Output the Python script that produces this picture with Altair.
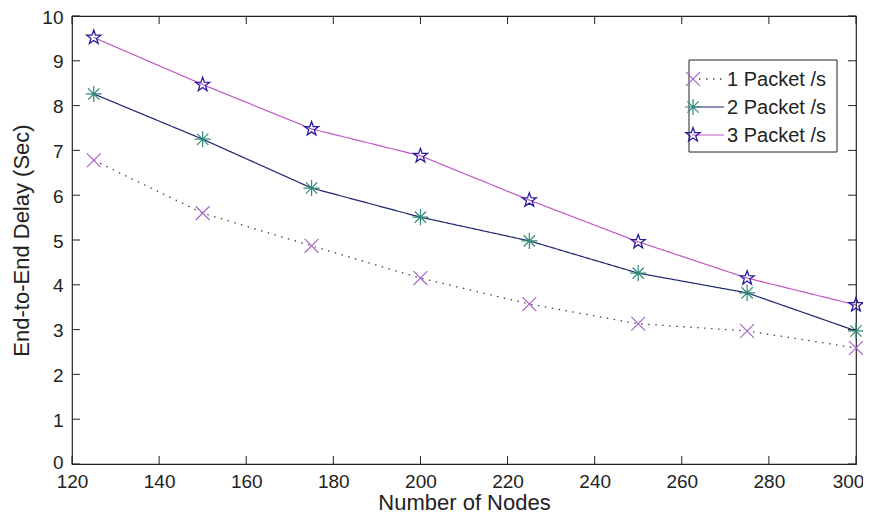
import altair as alt
import pandas as pd

# ---------------- data ----------------
nodes = [125, 150, 175, 200, 225, 250, 275, 300]
pkt1 = [6.78, 5.60, 4.87, 4.15, 3.57, 3.13, 2.97, 2.59]
pkt2 = [8.26, 7.25, 6.16, 5.51, 4.98, 4.26, 3.82, 2.97]
pkt3 = [9.52, 8.47, 7.48, 6.88, 5.89, 4.96, 4.15, 3.55]
series_names = ["1 Packet /s", "2 Packet /s", "3 Packet /s"]
x_ticks = [120, 140, 160, 180, 200, 220, 240, 260, 280, 300]
y_ticks = [0, 1, 2, 3, 4, 5, 6, 7, 8, 9, 10]

W, H = 784, 448
FONT = "Liberation Sans, Arial, Helvetica, sans-serif"

X_SHAPE = "M-1,-1L1,1M-1,1L1,-1"
AST_SHAPE = "M-1,0L1,0M0,-1L0,1M-0.7,-0.7L0.7,0.7M-0.7,0.7L0.7,-0.7"
STAR_SHAPE = ("M0,-1L0.235,-0.324L0.951,-0.309L0.380,0.124L0.588,0.809L0,0.4"
              "L-0.588,0.809L-0.380,0.124L-0.951,-0.309L-0.235,-0.324Z")

styles = [
    dict(line="#3c3c3c", dash=[1.4, 5.6], lw=1.3, mcol="#a865c8", shape=X_SHAPE, size=190, mw=1.2),
    dict(line="#1c2470", dash=[1, 0], lw=1.2, mcol="#2f8a78", shape=AST_SHAPE, size=260, mw=1.2),
    dict(line="#c058c4", dash=[1, 0], lw=1.2, mcol="#2a1c9c", shape=STAR_SHAPE, size=220, mw=1.3),
]

values = [pkt1, pkt2, pkt3]

xs = alt.Scale(domain=[120, 300], nice=False, zero=False)
ys = alt.Scale(domain=[0, 10], nice=False, zero=False)

x_axis = alt.Axis(values=x_ticks, title="Number of Nodes", grid=False, domain=False,
                  ticks=False, labelFont=FONT, labelFontSize=19, labelPadding=8,
                  labelColor="#222", titleFont=FONT, titleFontSize=22,
                  titleFontWeight="normal", titleColor="#222", titlePadding=1,
                  labelFlush=False, labelOverlap=False,
                  labelOffset={"condition": {"test": "datum.value == 300", "value": -8}, "value": 0})
y_axis = alt.Axis(values=y_ticks, title="End-to-End Delay (Sec)", grid=False, domain=False,
                  ticks=False, labelFont=FONT, labelFontSize=19, labelPadding=9,
                  labelColor="#222", titleFont=FONT, titleFontSize=22,
                  labelOffset={"condition": {"test": "datum.value == 0", "value": -2}, "value": 1},
                  titleFontWeight="normal", titleColor="#222", titlePadding=8,
                  labelFlush=False, labelOverlap=False)

layers = []

# series lines
for name, vals, st in zip(series_names, values, styles):
    df = pd.DataFrame({"nodes": nodes, "delay": vals, "series": name})
    layers.append(
        alt.Chart(df).mark_line(color=st["line"], strokeDash=st["dash"], strokeWidth=st["lw"])
        .encode(x=alt.X("nodes:Q", scale=xs, axis=x_axis),
                y=alt.Y("delay:Q", scale=ys, axis=y_axis))
    )

# series markers
for name, vals, st in zip(series_names, values, styles):
    df = pd.DataFrame({"nodes": nodes, "delay": vals, "series": name})
    layers.append(
        alt.Chart(df).mark_point(shape=st["shape"], size=st["size"], filled=False,
                                 stroke=st["mcol"], strokeWidth=st["mw"], opacity=1)
        .encode(x=alt.X("nodes:Q", scale=xs), y=alt.Y("delay:Q", scale=ys))
    )

# inward ticks (MATLAB style box)
ytk = pd.DataFrame({"v": y_ticks})
xtk = pd.DataFrame({"v": x_ticks})
TL = 8
layers.append(alt.Chart(ytk).mark_rule(color="#222", strokeWidth=1).encode(
    y=alt.Y("v:Q", scale=ys), x=alt.value(0), x2=alt.value(TL)))
layers.append(alt.Chart(ytk).mark_rule(color="#222", strokeWidth=1).encode(
    y=alt.Y("v:Q", scale=ys), x=alt.value(W - TL), x2=alt.value(W)))
layers.append(alt.Chart(xtk).mark_rule(color="#222", strokeWidth=1).encode(
    x=alt.X("v:Q", scale=xs), y=alt.value(H - TL), y2=alt.value(H)))
layers.append(alt.Chart(xtk).mark_rule(color="#222", strokeWidth=1).encode(
    x=alt.X("v:Q", scale=xs), y=alt.value(0), y2=alt.value(TL)))

# legend
LX0, LX1, LY0, LY1 = 617, 765, 44, 136
rows_y = [63, 91, 119]
leg_df = pd.DataFrame({"series": series_names})
layers.append(alt.Chart(leg_df.head(1)).mark_rect(fill="white", stroke="#222", strokeWidth=1).encode(
    x=alt.value(LX0), x2=alt.value(LX1), y=alt.value(LY0), y2=alt.value(LY1)))
for i, (name, st) in enumerate(zip(series_names, styles)):
    row = leg_df.iloc[[i]]
    ry = rows_y[i]
    layers.append(alt.Chart(row).mark_rule(color=st["line"], strokeDash=st["dash"], strokeWidth=st["lw"]).encode(
        x=alt.value(620), x2=alt.value(652), y=alt.value(ry)))
    layers.append(alt.Chart(row).mark_point(shape=st["shape"], size=st["size"], filled=False,
                                            stroke=st["mcol"], strokeWidth=st["mw"], opacity=1).encode(
        x=alt.value(621), y=alt.value(ry)))
    layers.append(alt.Chart(row).mark_text(align="left", baseline="middle", font=FONT, fontSize=20,
                                           color="#222").encode(
        x=alt.value(655), y=alt.value(ry + 1), text="series:N"))

chart = alt.layer(*layers).properties(
    width=W, height=H,
    autosize=alt.AutoSizeParams(type="none"),
    padding={"left": 64, "top": 8, "right": 7, "bottom": 51},
    background="white",
).configure_view(stroke="#222", strokeWidth=1.2)

chart.save("out.html", embed_options={"renderer": "svg", "actions": False})
